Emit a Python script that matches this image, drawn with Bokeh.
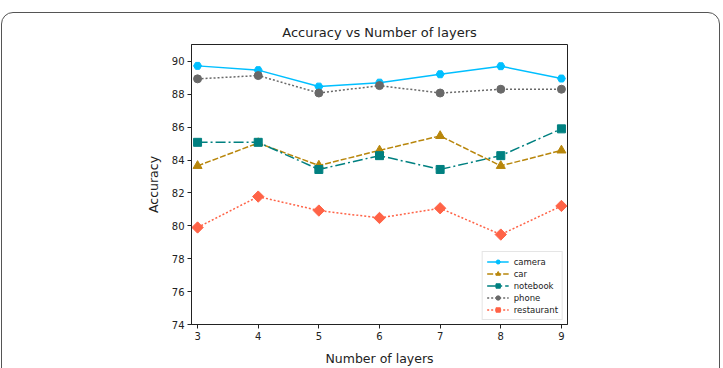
import math
from bokeh.plotting import figure
from bokeh.models import Range1d, FixedTicker, Legend, LegendItem, InlineStyleSheet
from bokeh.embed import file_html
from bokeh.resources import INLINE

layers = [3, 4, 5, 6, 7, 8, 9]
camera = [89.73, 89.47, 88.47, 88.71, 89.22, 89.71, 88.96]
car = [83.65, 85.04, 83.67, 84.59, 85.47, 83.65, 84.59]
notebook = [85.08, 85.08, 83.43, 84.27, 83.43, 84.27, 85.90]
phone = [88.94, 89.14, 88.08, 88.53, 88.08, 88.31, 88.31]
restaurant = [79.90, 81.78, 80.93, 80.48, 81.07, 79.47, 81.21]

y_ticks = [74, 76, 78, 80, 82, 84, 86, 88, 90]

FONT = "DejaVu Sans"

# rounded panel border drawn around the whole figure
frame_css = InlineStyleSheet(css="""
:host::after {
  content: '';
  position: absolute;
  left: 1px; top: 12px;
  width: 717px; height: 420px;
  border: 1.5px solid #555;
  border-radius: 12px;
  pointer-events: none;
}
""")

p = figure(width=723, height=368, output_backend="svg", toolbar_location=None,
           x_range=Range1d(2.9, 9.1), y_range=Range1d(74, 91.03),
           min_border_left=191, min_border_right=156, min_border_top=44,
           min_border_bottom=44, title="Accuracy vs Number of layers",
           stylesheets=[frame_css])

p.title.align = "center"
p.title.text_font = FONT
p.title.text_font_size = "13px"
p.title.text_font_style = "normal"
p.title.text_color = "#222"

p.xgrid.visible = False
p.ygrid.visible = False
p.outline_line_color = "#222"
p.outline_line_width = 1
p.background_fill_color = "white"
p.border_fill_color = "white"

p.xaxis.ticker = FixedTicker(ticks=layers)
p.yaxis.ticker = FixedTicker(ticks=y_ticks)
for ax in (p.xaxis, p.yaxis):
    ax.axis_line_color = "#222"
    ax.major_tick_line_color = "#222"
    ax.major_tick_in = 0
    ax.major_tick_out = 4
    ax.minor_tick_line_color = None
    ax.major_label_text_font = FONT
    ax.major_label_text_font_size = "10px"
    ax.major_label_text_color = "#222"
    ax.axis_label_text_font = FONT
    ax.axis_label_text_font_size = "12.5px"
    ax.axis_label_text_font_style = "normal"
    ax.axis_label_text_color = "#222"
p.xaxis.axis_label = "Number of layers"
p.yaxis.axis_label = "Accuracy"
p.xaxis.major_label_standoff = 3
p.yaxis.major_label_standoff = 3
p.xaxis.axis_label_standoff = 8
p.yaxis.axis_label_standoff = 8

# name, values, colour, dash, marker, size, marker angle
series = [
    ("camera", camera, "#00bfff", "solid", "hex", 8, 0),
    ("car", car, "#b8860b", "6 2", "triangle", 9, 0),
    ("notebook", notebook, "#008080", "10 3 2 3", "square", 8, 0),
    ("phone", phone, "#696969", "2 2", "circle", 8, 0),
    ("restaurant", restaurant, "tomato", "2 2", "square", 8, math.pi / 4),
]

items = []
for name, vals, color, dash, marker, size, angle in series:
    ln = p.line(layers, vals, line_color=color, line_width=1.5, line_dash=dash)
    sc = p.scatter(layers, vals, marker=marker, size=size, angle=angle,
                   fill_color=color, line_color=color)
    items.append(LegendItem(label=name, renderers=[ln, sc]))

legend = Legend(items=items, location="bottom_right")
legend.label_text_font = FONT
legend.label_text_font_size = "8.5px"
legend.label_text_color = "#222"
legend.glyph_height = 11
legend.glyph_width = 22
legend.label_height = 11
legend.spacing = 1
legend.padding = 4
legend.margin = 4
legend.border_line_color = "#ccc"
legend.border_line_width = 1
legend.background_fill_alpha = 0.9
p.add_layout(legend)

open("out.html", "w").write(file_html(p, INLINE))
